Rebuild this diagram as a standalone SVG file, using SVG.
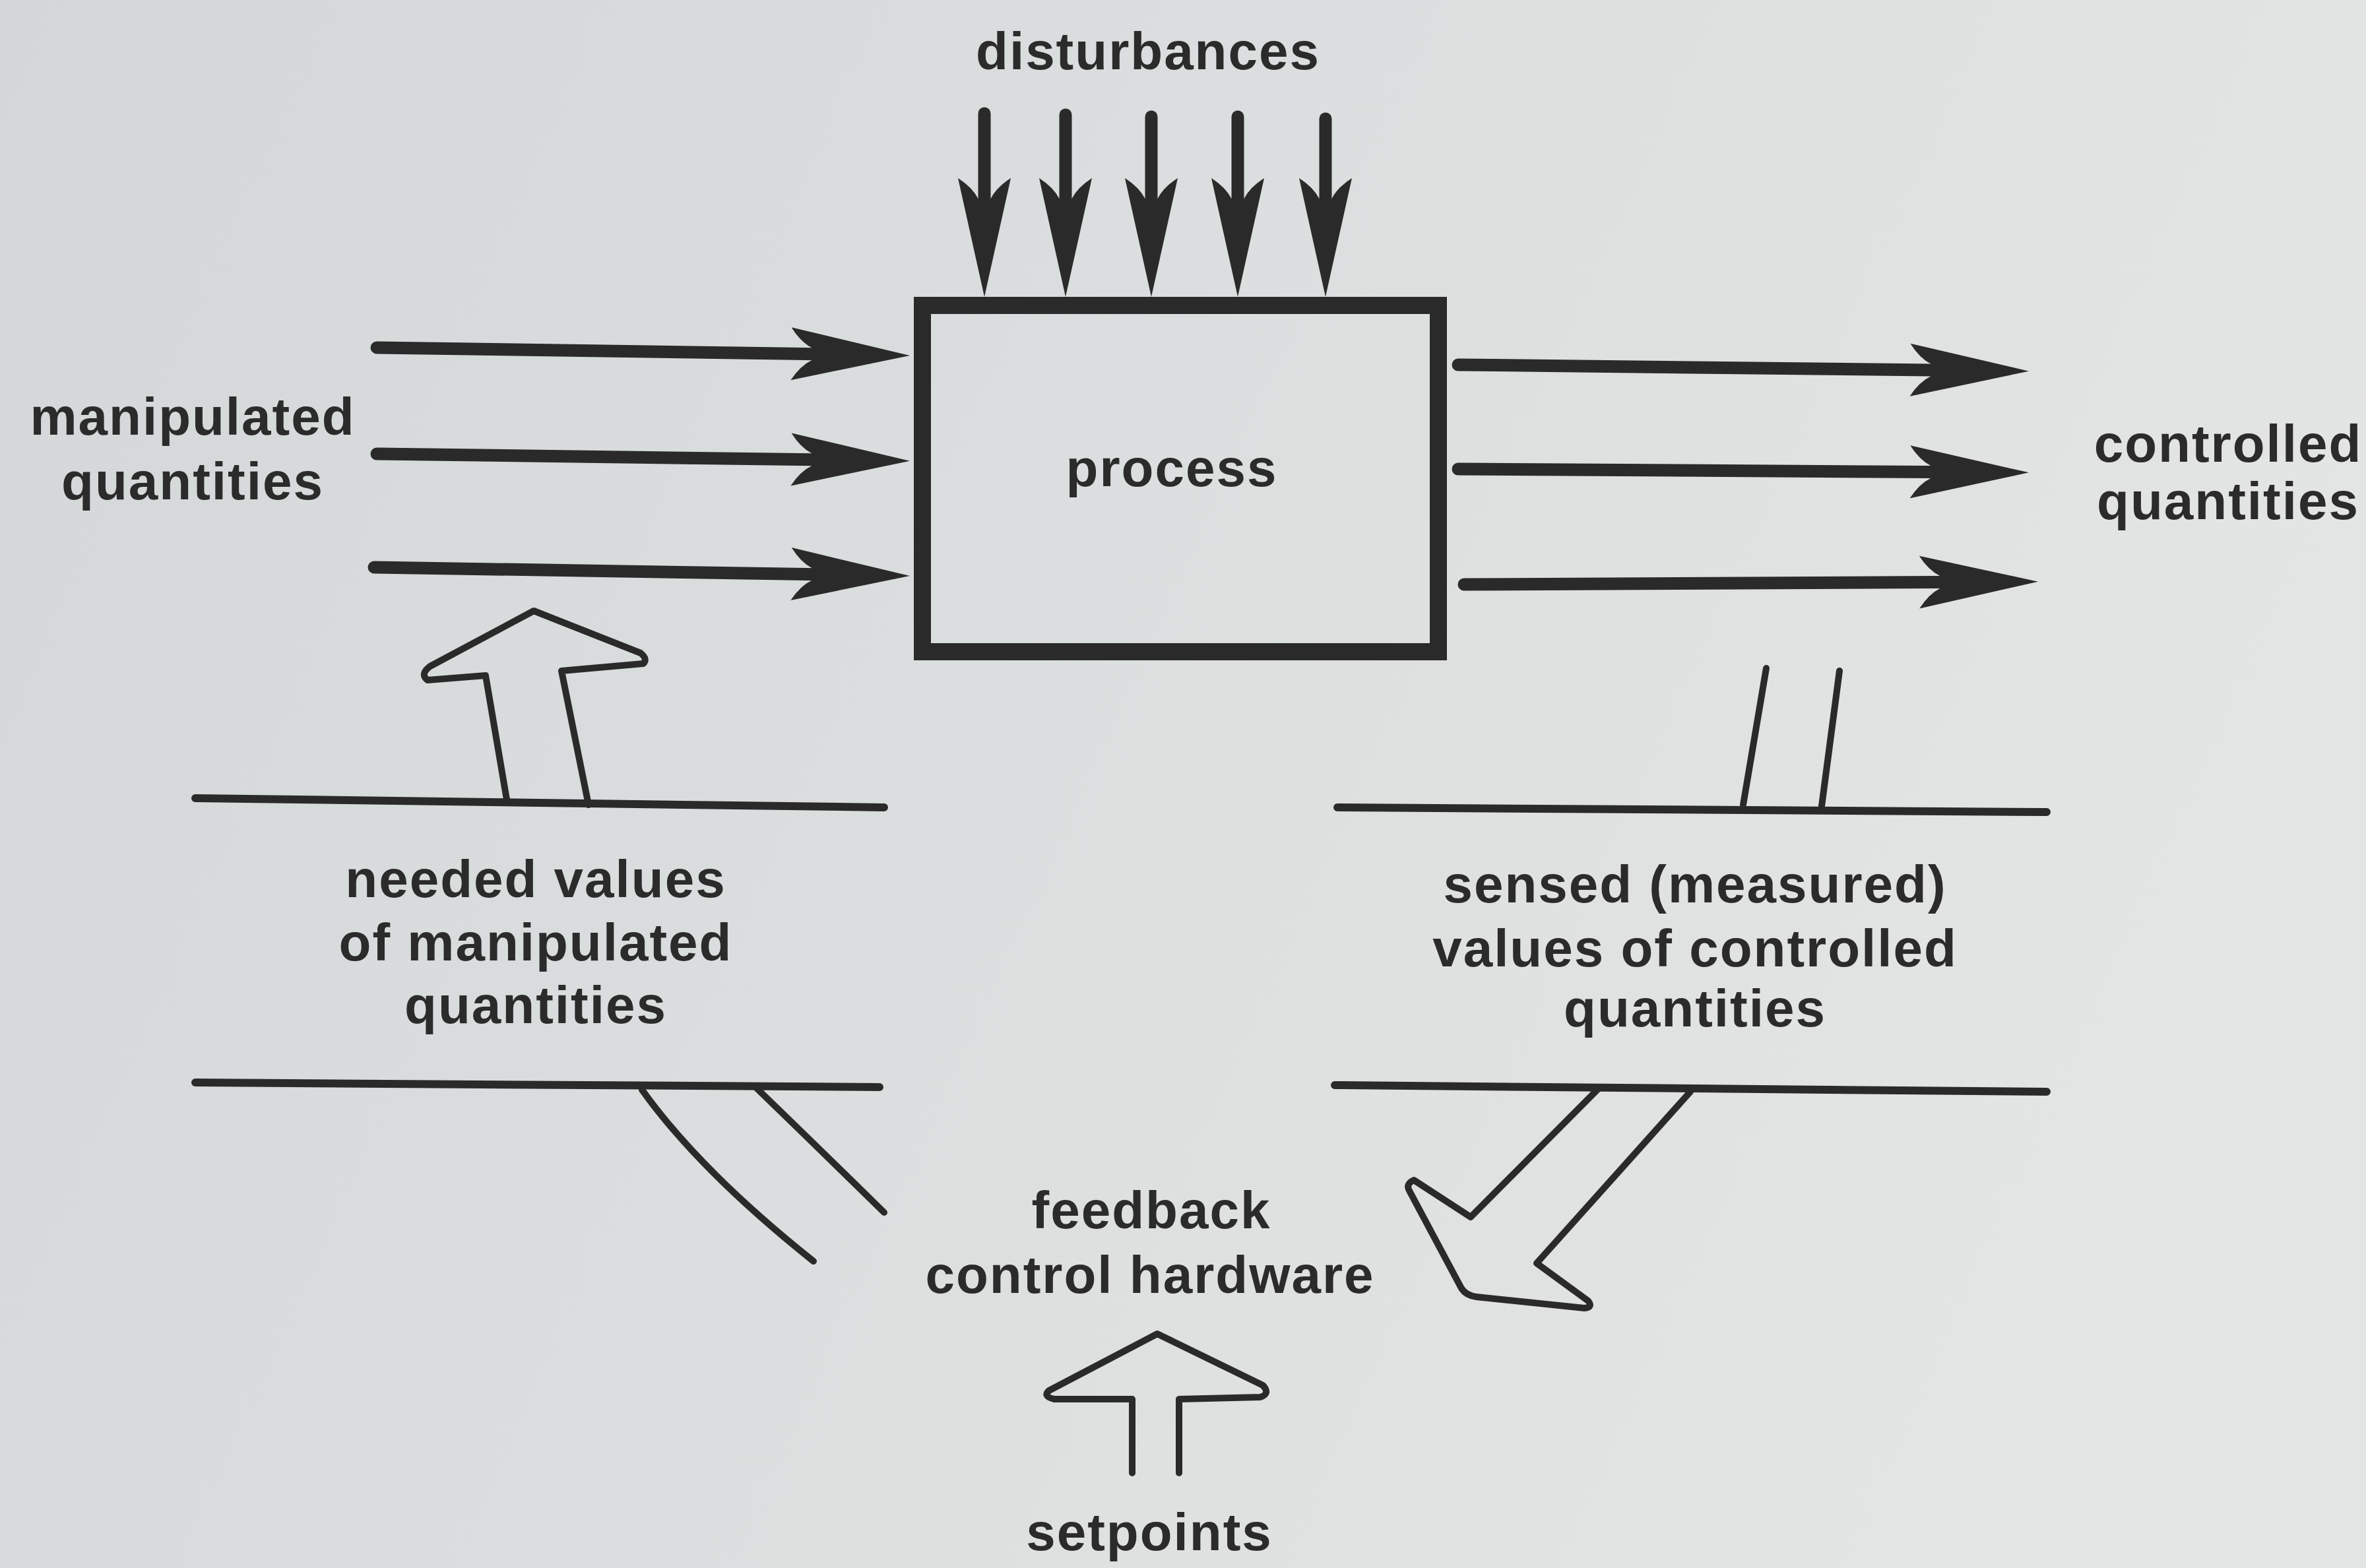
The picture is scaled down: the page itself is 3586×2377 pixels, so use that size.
<svg xmlns="http://www.w3.org/2000/svg" width="3586" height="2377" viewBox="0 0 3586 2377">
  <style>
    .lbl { font-family: "Liberation Sans", Arial, Helvetica, sans-serif; font-weight: bold; font-size: 80px; letter-spacing: 2px; fill: #2b2b2b; text-anchor: middle; }
    .shaft { stroke: #2a2a2a; stroke-width: 19; fill: none; stroke-linecap: round; }
    .rule { stroke: #2a2a2a; stroke-width: 12; fill: none; stroke-linecap: round; }
    .hollow { stroke: #2a2a2a; stroke-width: 10; fill: none; stroke-linejoin: round; stroke-linecap: round; }
    .box { stroke: #2a2a2a; stroke-width: 26; fill: none; }
  </style>
  <defs>
    <linearGradient id="bg" x1="0" y1="0" x2="1" y2="0.3">
      <stop offset="0" stop-color="#d3d7d8"/>
      <stop offset="1" stop-color="#e3e5e4"/>
    </linearGradient>
    <marker id="head" markerUnits="userSpaceOnUse" markerWidth="200" markerHeight="100" viewBox="0 -50 200 100" refX="120" refY="0" orient="auto">
      <path d="M180,0 L0,-40 Q14,-18 32,-9 L32,9 Q14,18 0,40 Z" fill="#2a2a2a"/>
    </marker>
  </defs>
  <rect width="3586" height="2377" fill="url(#bg)"/>

  <g id="process">
    <rect class="box" x="1398" y="463" width="782" height="525"/>
    <text class="lbl" x="1776" y="737">process</text>
  </g>
  <g id="disturbances">
    <text class="lbl" x="1740" y="105">disturbances</text>
  </g>
  <g id="manipulated-quantities">
    <text class="lbl" x="292" y="659">manipulated</text>
    <text class="lbl" x="292" y="757">quantities</text>
  </g>
  <g id="controlled-quantities">
    <text class="lbl" x="3377" y="700">controlled</text>
    <text class="lbl" x="3377" y="787">quantities</text>
  </g>
  <g id="needed-values">
    <line class="rule" x1="296" y1="1210" x2="1340" y2="1224"/>
    <line class="rule" x1="296" y1="1641" x2="1333" y2="1648"/>
    <text class="lbl" x="812" y="1360">needed values</text>
    <text class="lbl" x="812" y="1456">of manipulated</text>
    <text class="lbl" x="812" y="1551">quantities</text>
  </g>
  <g id="sensed-values">
    <line class="rule" x1="2027" y1="1224" x2="3102" y2="1231"/>
    <line class="rule" x1="2023" y1="1645" x2="3102" y2="1655"/>
    <text class="lbl" x="2569" y="1368">sensed (measured)</text>
    <text class="lbl" x="2569" y="1465">values of controlled</text>
    <text class="lbl" x="2569" y="1556">quantities</text>
  </g>
  <g id="feedback-control-hardware">
    <text class="lbl" x="1745" y="1862">feedback</text>
    <text class="lbl" x="1743" y="1960">control hardware</text>
  </g>
  <g id="setpoints">
    <text class="lbl" x="1742" y="2350">setpoints</text>
  </g>

  <g id="connectors">
    <line class="shaft" x1="1492" y1="172" x2="1492" y2="390" marker-end="url(#head)"/>
    <line class="shaft" x1="1615" y1="174" x2="1615" y2="390" marker-end="url(#head)"/>
    <line class="shaft" x1="1745" y1="177" x2="1745" y2="390" marker-end="url(#head)"/>
    <line class="shaft" x1="1876" y1="177" x2="1876" y2="390" marker-end="url(#head)"/>
    <line class="shaft" x1="2009" y1="180" x2="2009" y2="390" marker-end="url(#head)"/>

    <line class="shaft" x1="571" y1="527" x2="1319" y2="538" marker-end="url(#head)"/>
    <line class="shaft" x1="571" y1="688" x2="1319" y2="698" marker-end="url(#head)"/>
    <line class="shaft" x1="567" y1="860" x2="1319" y2="872" marker-end="url(#head)"/>

    <line class="shaft" x1="2210" y1="553" x2="3015" y2="562" marker-end="url(#head)"/>
    <line class="shaft" x1="2210" y1="711" x2="3015" y2="716" marker-end="url(#head)"/>
    <line class="shaft" x1="2219" y1="886" x2="3029" y2="882" marker-end="url(#head)"/>

    <path class="hollow" d="M768,1212 L736,1024 L648,1031 Q636,1022 652,1010 L809,926 L971,990 Q982,999 975,1006 L851,1017 L892,1220"/>

    <line class="hollow" x1="2642" y1="1220" x2="2677" y2="1013"/>
    <line class="hollow" x1="2761" y1="1222" x2="2788" y2="1017"/>

    <path class="hollow" d="M973,1652 Q1060,1774 1233,1912"/>
    <path class="hollow" d="M1145,1648 Q1235,1735 1340,1838"/>

    <path class="hollow" d="M2421,1652 L2229,1845 L2143,1789 Q2130,1795 2136,1805 L2215,1953 Q2222,1964 2238,1966 L2401,1983 Q2415,1982 2407,1972 L2329,1915 L2562,1655"/>

    <path class="hollow" d="M1716,2233 L1716,2121 L1598,2121 Q1580,2117 1590,2108 L1754,2022 L1914,2100 Q1926,2113 1910,2118 L1787,2121 L1787,2233"/>
  </g>
</svg>
